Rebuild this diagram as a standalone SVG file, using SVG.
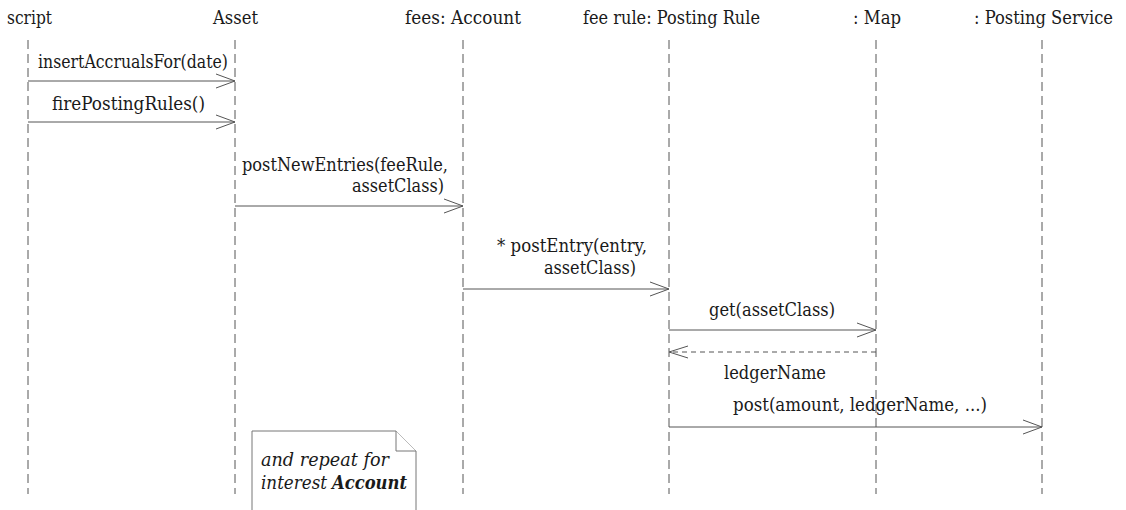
<svg xmlns="http://www.w3.org/2000/svg" width="1126" height="510" viewBox="0 0 1126 510">
<style>
text{font-family:'DejaVu Serif',serif;font-size:18px;fill:#1a1a1a}
.life{stroke:#555;stroke-width:1;stroke-dasharray:9 5;fill:none}
.msg{stroke:#555;stroke-width:1;fill:none}
.ret{stroke:#555;stroke-width:1;fill:none;stroke-dasharray:5 4}
.head{stroke:#555;stroke-width:1;fill:none}
.note{fill:#fff;stroke:#777;stroke-width:1}
.it{font-style:italic;font-size:18.5px}
.bd{font-weight:bold}
</style>
<g id="lifelines">
<g id="script"><text x="7" y="24" textLength="45" lengthAdjust="spacingAndGlyphs">script</text><line class="life" x1="28" y1="40" x2="28" y2="494"/></g>
<g id="asset"><text x="213" y="24" textLength="45" lengthAdjust="spacingAndGlyphs">Asset</text><line class="life" x1="235" y1="40" x2="235" y2="494"/></g>
<g id="fees"><text x="405" y="24" textLength="116" lengthAdjust="spacingAndGlyphs">fees: Account</text><line class="life" x1="463" y1="40" x2="463" y2="494"/></g>
<g id="feerule"><text x="583" y="24" textLength="177" lengthAdjust="spacingAndGlyphs">fee rule: Posting Rule</text><line class="life" x1="669" y1="40" x2="669" y2="494"/></g>
<g id="map"><text x="853" y="24" textLength="48" lengthAdjust="spacingAndGlyphs">: Map</text><line class="life" x1="876" y1="40" x2="876" y2="494"/></g>
<g id="postingservice"><text x="974" y="24" textLength="139" lengthAdjust="spacingAndGlyphs">: Posting Service</text><line class="life" x1="1042" y1="40" x2="1042" y2="494"/></g>
</g>
<g id="connectors">
<line class="msg" x1="28" y1="81" x2="235" y2="81"/><polyline class="head" points="216,74 235,81 216,88"/>
<text x="38" y="68" textLength="190" lengthAdjust="spacingAndGlyphs">insertAccrualsFor(date)</text>
<line class="msg" x1="28" y1="122" x2="235" y2="122"/><polyline class="head" points="216,115 235,122 216,129"/>
<text x="52" y="110" textLength="153" lengthAdjust="spacingAndGlyphs">firePostingRules()</text>
<line class="msg" x1="235" y1="206" x2="463" y2="206"/><polyline class="head" points="444,199 463,206 444,213"/>
<text x="242" y="171" textLength="206" lengthAdjust="spacingAndGlyphs">postNewEntries(feeRule,</text>
<text x="352" y="192" textLength="92" lengthAdjust="spacingAndGlyphs">assetClass)</text>
<line class="msg" x1="463" y1="289" x2="669" y2="289"/><polyline class="head" points="650,282 669,289 650,296"/>
<text x="497" y="252" textLength="150" lengthAdjust="spacingAndGlyphs">* postEntry(entry,</text>
<text x="544" y="274" textLength="92" lengthAdjust="spacingAndGlyphs">assetClass)</text>
<line class="msg" x1="669" y1="330" x2="876" y2="330"/><polyline class="head" points="857,323 876,330 857,337"/>
<text x="709" y="316" textLength="126" lengthAdjust="spacingAndGlyphs">get(assetClass)</text>
<line class="ret" x1="876" y1="352" x2="669" y2="352"/><polyline class="head" points="688,346 669,352 688,358"/>
<text x="724" y="379" textLength="102" lengthAdjust="spacingAndGlyphs">ledgerName</text>
<line class="msg" x1="669" y1="427" x2="1042" y2="427"/><polyline class="head" points="1023,420 1042,427 1023,434"/>
<text x="733" y="411" textLength="254" lengthAdjust="spacingAndGlyphs">post(amount, ledgerName, ...)</text>
</g>
<g id="note">
<path class="note" d="M252,512 L252,431 L396,431 L416,451 L416,512"/>
<path class="note" d="M396,431 L396,451 L416,451" fill="none"/>
<text class="it" x="261" y="466" textLength="128" lengthAdjust="spacingAndGlyphs">and repeat for</text>
<text class="it" x="261" y="489" textLength="66" lengthAdjust="spacingAndGlyphs">interest</text>
<text class="it bd" x="332" y="489" textLength="75" lengthAdjust="spacingAndGlyphs">Account</text>
</g>
</svg>
